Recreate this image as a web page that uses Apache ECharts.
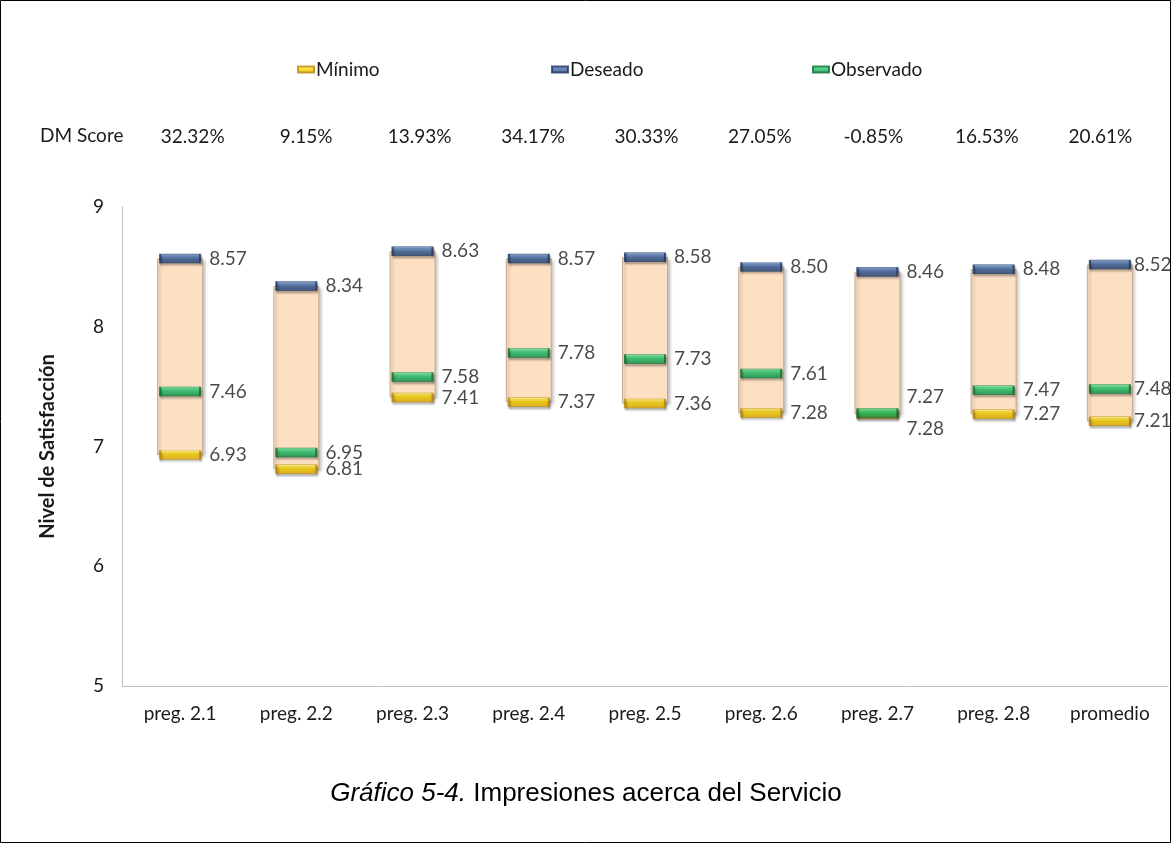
<!DOCTYPE html>
<html>
<head>
<meta charset="utf-8">
<script src="https://cdn.jsdelivr.net/npm/echarts@6/dist/echarts.min.js"></script>
<style>
  html, body { margin: 0; padding: 0; background: #fff; }
  #chart { width: 1172px; height: 844px; }
</style>
</head>
<body>
<div id="chart"></div>
<script>
const categories = ['preg. 2.1', 'preg. 2.2', 'preg. 2.3', 'preg. 2.4', 'preg. 2.5', 'preg. 2.6', 'preg. 2.7', 'preg. 2.8', 'promedio']
const minimo = [6.93, 6.81, 7.41, 7.37, 7.36, 7.28, 7.27, 7.27, 7.21]
const deseado = [8.57, 8.34, 8.63, 8.57, 8.58, 8.50, 8.46, 8.48, 8.52]
const observado = [7.46, 6.95, 7.58, 7.78, 7.73, 7.61, 7.28, 7.47, 7.48]
const dmScore = ['32.32%', '9.15%', '13.93%', '34.17%', '30.33%', '27.05%', '-0.85%', '16.53%', '20.61%']
const seriesNames = ['Mínimo', 'Deseado', 'Observado']
const yTicks = [5, 6, 7, 8, 9]

const font = 'Lato, "Open Sans", sans-serif'
const textColor = '#1a1a1a'
const axisGray = '#bfbfbf'

// where two labels would collide (preg. 2.7), push them apart vertically;
// the last column sits against the right edge, so its labels hug the marker
const minLabelShift = { 6: -17 }
const obsLabelShift = { 6: 16 }
const lastIndex = categories.length - 1

function grad(top, mid, bottom) {
  return new echarts.graphic.LinearGradient(0, 0, 0, 1, [
    { offset: 0, color: top },
    { offset: 0.45, color: mid },
    { offset: 1, color: bottom },
  ])
}

function markerSeries(name, values, fill, border, shifts) {
  return {
    name,
    type: 'scatter',
    z: 4,
    symbol: 'rect',
    symbolSize: [40, 9],
    itemStyle: {
      color: fill,
      borderColor: border,
      borderWidth: 1,
      shadowColor: 'rgba(0,0,0,0.35)',
      shadowBlur: 2,
      shadowOffsetX: 1,
      shadowOffsetY: 2,
    },
    label: {
      show: true,
      position: 'right',
      distance: 8,
      color: textColor,
      fontFamily: font,
      fontSize: 19,
      formatter: (p) => p.value[1].toFixed(2),
    },
    data: values.map((v, i) => {
      const item = { value: [categories[i], v] }
      if (shifts && shifts[i] !== undefined) {
        item.label = { offset: [0, shifts[i]] }
      }
      if (i === lastIndex) {
        item.label = { distance: 3 }
      }
      return item
    }),
  }
}

function legendAt(name, left) {
  return {
    left,
    top: 55,
    itemWidth: 16,
    itemHeight: 6,
    itemGap: 0,
    data: [name],
    textStyle: { color: textColor, fontSize: 19, fontFamily: font, padding: [0, 0, 0, -3] },
  }
}

const chart = echarts.init(document.getElementById('chart'))

chart.setOption({
  animation: false,
  backgroundColor: '#fff',
  textStyle: { fontFamily: font },
  legend: [
    legendAt(seriesNames[0], 292),
    legendAt(seriesNames[1], 546),
    legendAt(seriesNames[2], 807),
  ],
  grid: [
    { left: 122, right: 4, top: 207, bottom: 158 },
    { left: 136, right: 15, top: 100, height: 20 },
  ],
  xAxis: [
    {
      type: 'category',
      data: categories,
      axisLine: { lineStyle: { color: axisGray } },
      axisTick: { show: false },
      axisLabel: { color: textColor, fontSize: 19, fontFamily: font, margin: 18 },
    },
    {
      type: 'category',
      gridIndex: 1,
      data: dmScore,
      axisLine: { show: false },
      axisTick: { show: false },
      axisLabel: { color: textColor, fontSize: 19, fontFamily: font, margin: 7 },
    },
  ],
  yAxis: [
    {
      type: 'value',
      min: yTicks[0],
      max: yTicks[yTicks.length - 1],
      interval: 1,
      name: 'Nivel de Satisfacción',
      nameLocation: 'middle',
      nameGap: 64,
      nameTextStyle: { color: textColor, fontSize: 20, fontWeight: 'bold', fontFamily: font },
      axisLine: { show: true, lineStyle: { color: axisGray } },
      axisTick: { show: false },
      splitLine: { show: false },
      axisLabel: { color: textColor, fontSize: 19, fontFamily: font, margin: 18 },
    },
    { type: 'value', gridIndex: 1, show: false },
  ],
  graphic: [
    {
      type: 'text',
      left: 40,
      top: 126,
      style: { text: 'DM Score', fill: textColor, font: '19px ' + font },
    },
    {
      type: 'text',
      left: 'center',
      top: 781,
      style: {
        text: '{i|Gráfico 5-4.} Impresiones acerca del Servicio',
        fill: '#000',
        font: '26px "Liberation Sans", Arial, sans-serif',
        rich: {
          i: { fontStyle: 'italic', fontSize: 26, fontFamily: '"Liberation Sans", Arial, sans-serif', fill: '#000' },
        },
      },
    },
    {
      type: 'rect',
      silent: true,
      shape: { x: 0.5, y: 0.5, width: 1170, height: 842 },
      style: { fill: 'none', stroke: '#000', lineWidth: 1 },
    },
  ],
  series: [
    {
      type: 'bar',
      stack: 'range',
      barWidth: 46,
      silent: true,
      itemStyle: { color: 'transparent' },
      data: minimo,
    },
    {
      type: 'bar',
      stack: 'range',
      barWidth: 46,
      silent: true,
      itemStyle: {
        color: '#fddfc2',
        borderColor: '#c7ab8f',
        borderWidth: 1,
        shadowColor: 'rgba(0,0,0,0.25)',
        shadowBlur: 3,
        shadowOffsetX: 2,
        shadowOffsetY: 2,
      },
      data: deseado.map((d, i) => +(d - minimo[i]).toFixed(2)),
    },
    markerSeries(seriesNames[0], minimo, grad('#fff27a', '#ffd800', '#e2a600'), '#b8860b', minLabelShift),
    markerSeries(seriesNames[1], deseado, grad('#6f93c8', '#3f65a0', '#27467a'), '#1d3561', null),
    markerSeries(seriesNames[2], observado, grad('#6ff0a8', '#22c46a', '#12914a'), '#0c6b35', obsLabelShift),
  ],
})
</script>
</body>
</html>
